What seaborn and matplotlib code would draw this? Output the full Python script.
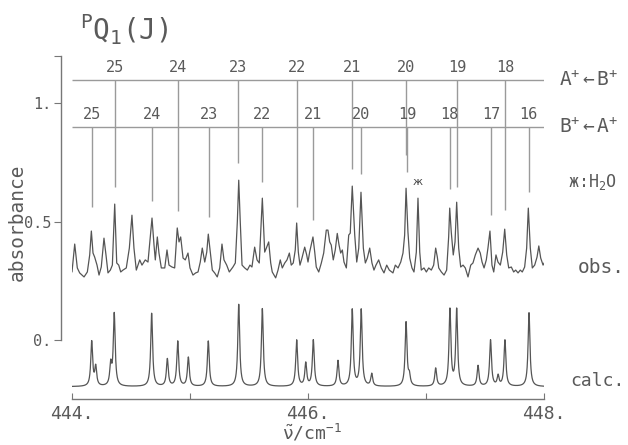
import numpy as np
import pandas as pd
import matplotlib
matplotlib.use("Agg")
import matplotlib.pyplot as plt
import seaborn as sns

obs_x = [444.000, 444.023, 444.045, 444.065, 444.102, 444.130, 444.150, 444.164, 444.178, 444.192,
         444.212, 444.229, 444.248, 444.271, 444.288, 444.305, 444.325, 444.342, 444.362, 444.379,
         444.396, 444.413, 444.432, 444.460, 444.486, 444.508, 444.525, 444.545, 444.574, 444.593,
         444.621, 444.644, 444.678, 444.695, 444.706, 444.723, 444.737, 444.757, 444.786, 444.805,
         444.822, 444.847, 444.870, 444.892, 444.907, 444.921, 444.941, 444.960, 444.983, 445.000,
         445.025, 445.048, 445.068, 445.087, 445.104, 445.125, 445.142, 445.155, 445.172, 445.189,
         445.209, 445.231, 445.252, 445.271, 445.288, 445.311, 445.333, 445.345, 445.364, 445.384,
         445.401, 445.413, 445.426, 445.441, 445.464, 445.486, 445.508, 445.525, 445.548, 445.568,
         445.587, 445.613, 445.633, 445.647, 445.667, 445.684, 445.697, 445.726, 445.746, 445.765,
         445.782, 445.803, 445.822, 445.842, 445.858, 445.875, 445.892, 445.904, 445.918, 445.932,
         445.949, 445.972, 445.989, 446.000, 446.014, 446.042, 446.057, 446.070, 446.091, 446.113,
         446.133, 446.155, 446.169, 446.184, 446.197, 446.214, 446.231, 446.248, 446.263, 446.277,
         446.291, 446.305, 446.325, 446.345, 446.358, 446.375, 446.396, 446.413, 446.430, 446.449,
         446.469, 446.486, 446.503, 446.523, 446.542, 446.559, 446.576, 446.599, 446.621, 446.644,
         446.667, 446.689, 446.720, 446.740, 446.763, 446.786, 446.805, 446.819, 446.831, 446.847,
         446.862, 446.881, 446.898, 446.918, 446.932, 446.947, 446.960, 446.983, 447.003, 447.023,
         447.045, 447.065, 447.082, 447.096, 447.108, 447.130, 447.153, 447.175, 447.192, 447.201,
         447.214, 447.231, 447.246, 447.260, 447.277, 447.294, 447.314, 447.333, 447.356, 447.379,
         447.398, 447.418, 447.441, 447.460, 447.475, 447.492, 447.511, 447.525, 447.542, 447.559,
         447.574, 447.593, 447.610, 447.630, 447.650, 447.667, 447.684, 447.701, 447.723, 447.743,
         447.760, 447.780, 447.799, 447.816, 447.836, 447.853, 447.867, 447.884, 447.901, 447.921,
         447.941, 447.956, 447.972, 447.992, 448.006]
obs_y = [0.287, 0.405, 0.304, 0.283, 0.266, 0.287, 0.359, 0.460, 0.367, 0.350,
         0.316, 0.274, 0.308, 0.430, 0.359, 0.283, 0.295, 0.316, 0.574, 0.325,
         0.316, 0.287, 0.295, 0.304, 0.388, 0.527, 0.388, 0.295, 0.338, 0.316,
         0.338, 0.329, 0.515, 0.401, 0.338, 0.435, 0.367, 0.304, 0.304, 0.380,
         0.316, 0.308, 0.304, 0.473, 0.414, 0.435, 0.346, 0.338, 0.367, 0.304,
         0.274, 0.283, 0.287, 0.329, 0.388, 0.329, 0.371, 0.447, 0.371, 0.295,
         0.283, 0.266, 0.304, 0.405, 0.338, 0.316, 0.287, 0.295, 0.308, 0.325,
         0.498, 0.675, 0.498, 0.316, 0.304, 0.295, 0.316, 0.308, 0.392, 0.338,
         0.325, 0.599, 0.371, 0.388, 0.414, 0.325, 0.287, 0.262, 0.295, 0.338,
         0.304, 0.325, 0.338, 0.367, 0.316, 0.325, 0.380, 0.494, 0.371, 0.316,
         0.346, 0.392, 0.359, 0.329, 0.371, 0.435, 0.371, 0.308, 0.287, 0.325,
         0.367, 0.464, 0.464, 0.414, 0.401, 0.338, 0.380, 0.450, 0.401, 0.367,
         0.380, 0.329, 0.304, 0.443, 0.451, 0.650, 0.443, 0.329, 0.388, 0.624,
         0.388, 0.325, 0.346, 0.388, 0.325, 0.295, 0.316, 0.338, 0.304, 0.283,
         0.316, 0.295, 0.283, 0.316, 0.304, 0.329, 0.367, 0.443, 0.641, 0.456,
         0.346, 0.304, 0.287, 0.371, 0.599, 0.371, 0.295, 0.304, 0.287, 0.304,
         0.295, 0.316, 0.388, 0.350, 0.304, 0.287, 0.274, 0.295, 0.435, 0.557,
         0.456, 0.359, 0.414, 0.582, 0.388, 0.308, 0.316, 0.304, 0.266, 0.316,
         0.325, 0.359, 0.388, 0.367, 0.329, 0.304, 0.338, 0.388, 0.460, 0.316,
         0.287, 0.359, 0.329, 0.316, 0.371, 0.468, 0.359, 0.304, 0.308, 0.287,
         0.295, 0.283, 0.295, 0.287, 0.308, 0.388, 0.557, 0.388, 0.304, 0.316,
         0.350, 0.397, 0.346, 0.316, 0.329]

# calculated spectrum: line positions and peak heights above its baseline
calc_base = -0.198
calc_pos = [444.167, 444.201, 444.328, 444.358, 444.675, 444.808, 444.896, 444.986, 445.155,
            445.413, 445.613, 445.904, 445.981, 446.045, 446.254, 446.375, 446.451, 446.540,
            446.831, 446.859, 447.082, 447.203, 447.260, 447.441, 447.547, 447.611, 447.669,
            447.873]
calc_height = [0.188, 0.080, 0.087, 0.305, 0.309, 0.115, 0.190, 0.122, 0.192,
               0.347, 0.329, 0.195, 0.097, 0.195, 0.108, 0.323, 0.323, 0.052,
               0.270, 0.040, 0.076, 0.323, 0.323, 0.087, 0.195, 0.043, 0.195,
               0.312]

# assignment markers
ab_J = [25, 24, 23, 22, 21, 20, 19, 18]
ab_x = [444.364, 444.898, 445.407, 445.907, 446.373, 446.831, 447.263, 447.669]
ab_end = [0.646, 0.544, 0.747, 0.561, 0.722, 0.781, 0.646, 0.549]
ba_J = [25, 24, 23, 22, 21, 20, 19, 18, 17, 16]
ba_x = [444.170, 444.680, 445.160, 445.610, 446.040, 446.450, 446.840, 447.200, 447.550, 447.870]
ba_end = [0.561, 0.586, 0.519, 0.667, 0.506, 0.700, 0.709, 0.637, 0.527, 0.624]
ab_level = 1.1
ba_level = 0.9
h2o_x, h2o_y = 446.93, 0.667

sns.set_style("ticks")
plt.rcParams["font.family"] = ["DejaVu Sans Mono", "DejaVu Sans"]
plt.rcParams["mathtext.fontset"] = "custom"
plt.rcParams["mathtext.rm"] = "DejaVu Sans Mono"
plt.rcParams["mathtext.it"] = "DejaVu Sans Mono"

TXT = "#5a5a5a"
LINE = "#555555"
MARK = "#9a9a9a"

df_obs = pd.DataFrame({"wn": obs_x, "absorbance": obs_y})

# line profile of the calculated spectrum (Lorentzian sticks)
grid = np.linspace(444.0, 448.0, 4001)
gamma = 0.0095
prof = np.zeros_like(grid)
for p, h in zip(calc_pos, calc_height):
    prof += h * gamma**2 / ((grid - p) ** 2 + gamma**2)
df_calc = pd.DataFrame({"wn": grid, "absorbance": calc_base + prof})

fig = plt.figure(figsize=(6.28, 4.45), dpi=100)
ax = fig.add_axes([72 / 628, 46 / 445, 472 / 628, 343 / 445])

sns.lineplot(data=df_obs, x="wn", y="absorbance", color=LINE, lw=0.9, ax=ax, sort=False)
sns.lineplot(data=df_calc, x="wn", y="absorbance", color=LINE, lw=0.9, ax=ax, sort=False)

# assignment combs
ax.hlines([ab_level, ba_level], 444.0, 448.0, color=MARK, lw=1.0)
ax.vlines(ab_x, ab_end, ab_level, color=MARK, lw=1.0)
ax.vlines(ba_x, ba_end, ba_level, color=MARK, lw=1.0)
for j, x in zip(ab_J, ab_x):
    ax.text(x, ab_level + 0.02, str(j), ha="center", va="bottom", fontsize=11, color=TXT)
for j, x in zip(ba_J, ba_x):
    ax.text(x, ba_level + 0.02, str(j), ha="center", va="bottom", fontsize=11, color=TXT)
ax.text(h2o_x, h2o_y, "ж", ha="center", va="center", fontsize=8, color="#444444",
        family=["DejaVu Sans"])

# right-hand labels
ax.text(448.13, ab_level, r"A$^{+}$$\leftarrow$B$^{+}$", ha="left", va="center",
        fontsize=14, color=TXT, clip_on=False)
ax.text(448.13, ba_level, r"B$^{+}$$\leftarrow$A$^{+}$", ha="left", va="center",
        fontsize=14, color=TXT, clip_on=False)
ax.text(448.2, 0.667, r"ж:H$_2$O", ha="left", va="center", fontsize=12, color=TXT,
        clip_on=False)
ax.text(448.29, 0.304, "obs.", ha="left", va="center", fontsize=14, color=TXT, clip_on=False)
ax.text(448.22, -0.173, "calc.", ha="left", va="center", fontsize=13, color=TXT, clip_on=False)

ax.set_xlim(444.0, 448.0)
ax.set_ylim(-0.25, 1.2)
sns.despine(ax=ax, top=True, right=True)
ax.spines["left"].set_position(("outward", 8))
ax.spines["left"].set_bounds(0, 1.2)
ax.spines["bottom"].set_bounds(444, 448)
for s in ("left", "bottom"):
    ax.spines[s].set_color("#777777")
    ax.spines[s].set_linewidth(1.0)

ax.set_yticks([0, 0.5, 1.0, 1.2])
ax.set_yticklabels(["0.", "0.5", "1.", ""])
ax.set_xticks([444, 445, 446, 447, 448])
ax.set_xticklabels(["444.", "", "446.", "", "448."])
ax.tick_params(axis="y", direction="out", length=5, color="#777777", labelsize=11,
               labelcolor=TXT, pad=2)
ax.tick_params(axis="x", direction="in", length=4, color="#777777", labelsize=13,
               labelcolor=TXT, pad=4)
ax.set_xlabel("")
ax.set_ylabel("")

fig.text(17 / 628, 1 - 222 / 445, "absorbance", rotation=90, ha="center", va="center",
         fontsize=14, color=TXT)
fig.text(312 / 628, 1 - 422 / 445, r"$\tilde{\nu}$/cm$^{-1}$", ha="center", va="top",
         fontsize=13, color=TXT)
fig.text(80 / 628, 1 - 40 / 445, r"$^{\mathrm{P}}\mathrm{Q}_{1}\mathrm{(J)}$", ha="left",
         va="baseline", fontsize=20, color=TXT)

fig.savefig("out.png", dpi=100)
